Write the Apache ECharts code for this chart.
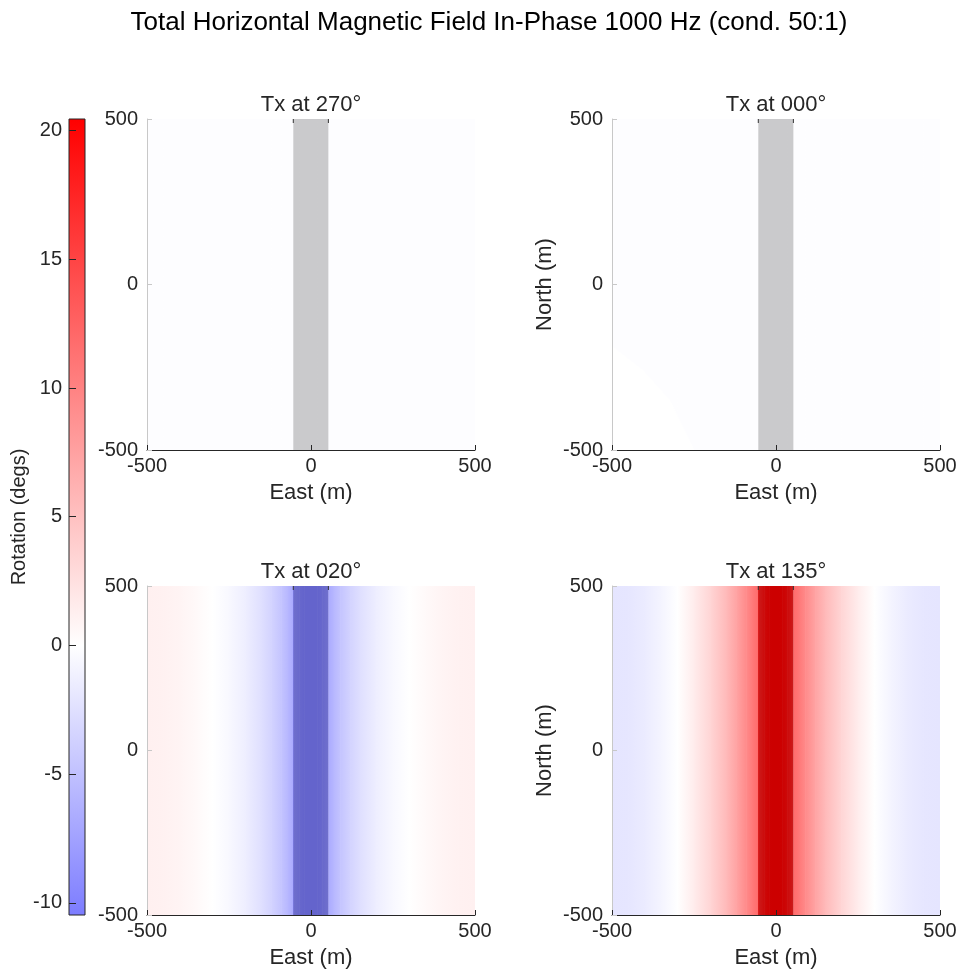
<!DOCTYPE html>
<html>
<head>
<meta charset="utf-8">
<script src="https://cdn.jsdelivr.net/npm/echarts@6/dist/echarts.min.js"></script>
<style>
  html, body { margin: 0; padding: 0; background: #fff; }
  #chart { width: 960px; height: 975px; }
</style>
</head>
<body>
<div id="chart"></div>
<script>
// Sample positions along the profile (East, m); field is uniform along North
const EAST = [-500, -450, -400, -350, -300, -250, -200, -150, -120, -90, -70, -55,
              -54, -35, -20, 0, 20, 35, 52,
              53, 70, 90, 120, 150, 200, 250, 300, 350, 400, 450, 500];

// Rotation (degs) along the profile for each transmitter azimuth
const TX270 = [-0.2, -0.2, -0.2, -0.2, -0.2, -0.2, -0.2, -0.2, -0.2, -0.2, -0.2, -0.2,
               -0.2, -0.2, -0.2, -0.2, -0.2, -0.2, -0.2,
               -0.2, -0.2, -0.2, -0.2, -0.2, -0.2, -0.2, -0.2, -0.2, -0.2, -0.2, -0.2];
const TX000 = [-0.2, -0.2, -0.2, -0.2, -0.2, -0.2, -0.2, -0.2, -0.2, -0.2, -0.2, -0.2,
               -0.2, -0.2, -0.2, -0.2, -0.2, -0.2, -0.2,
               -0.2, -0.2, -0.2, -0.2, -0.2, -0.2, -0.2, -0.2, -0.2, -0.2, -0.2, -0.2];
const TX020 = [1.2, 1.1, 0.9, 0.5, 0.0, -0.6, -1.4, -2.6, -3.5, -4.7, -5.8, -6.8,
               -9.2, -10.0, -10.4, -10.45, -10.4, -10.0, -9.2,
               -6.8, -5.8, -4.7, -3.5, -2.6, -1.4, -0.6, 0.0, 0.5, 0.9, 1.1, 1.2];
const TX135 = [-2.1, -2.0, -1.6, -0.9, 0.0, 1.5, 3.4, 5.6, 7.4, 9.4, 10.8, 11.8,
               17.6, 19.5, 20.3, 20.45, 20.3, 19.5, 17.6,
               11.8, 10.8, 9.4, 7.4, 5.6, 3.4, 1.5, 0.0, -0.9, -1.6, -2.0, -2.1];

// Near-zero lobe in the south-west corner of the Tx 000 map
const LOBE_EAST  = [-500, -500, -405, -323, -253, -250];
const LOBE_NORTH = [-500, -185, -258, -349, -491, -500];
const LOBE_VALUE = 0.0;

// Conductor footprint (East, m)
const CONDUCTOR = [-54, 53];

// Panel titles and colour scale
const PANEL_TITLES = ['Tx at 270°', 'Tx at 000°', 'Tx at 020°', 'Tx at 135°'];
const CB_MIN = -10.47, CB_MAX = 20.45;
const CB_TICKS = [-10, -5, 0, 5, 10, 15, 20];
const AXIS_TICKS = [-500, 0, 500];

const FONT = "'Liberation Sans', Arial, Helvetica, sans-serif";
const INK = '#262626';

// Blue-white-red map, white at zero, saturating at the colour-scale maximum
function rot(v) {
  const t = Math.min(Math.abs(v) / CB_MAX, 1);
  const c = Math.round(255 * (1 - t));
  return v >= 0 ? `rgb(255,${c},${c})` : `rgb(${c},${c},255)`;
}

const chart = echarts.init(document.getElementById('chart'), null, { renderer: 'canvas' });

const panels = [
  { left: 147, top: 119, width: 328, height: 331, vals: TX270, north: false },
  { left: 612, top: 119, width: 328, height: 331, vals: TX000, north: true, lobe: true },
  { left: 147, top: 586, width: 328, height: 329, vals: TX020, north: false },
  { left: 612, top: 586, width: 328, height: 329, vals: TX135, north: true }
];

const grids = [], xAxes = [], yAxes = [], series = [], graphics = [];

panels.forEach((p, i) => {
  grids.push({ left: p.left, top: p.top, width: p.width, height: p.height, containLabel: false });
  xAxes.push({
    gridIndex: i, type: 'value', min: -500, max: 500, position: 'bottom', z: 10,
    name: 'East (m)', nameLocation: 'middle', nameGap: 32,
    nameTextStyle: { color: INK, fontSize: 22, fontFamily: FONT },
    axisLine: { show: true, onZero: false, lineStyle: { color: INK, width: 1 } },
    axisTick: { show: true, inside: true, length: 5, customValues: AXIS_TICKS, lineStyle: { color: INK } },
    axisLabel: { customValues: AXIS_TICKS, color: INK, fontSize: 20, fontFamily: FONT, margin: 6 },
    splitLine: { show: false }
  });
  yAxes.push({
    gridIndex: i, type: 'value', min: -500, max: 500, position: 'left', z: 10,
    name: p.north ? 'North (m)' : '', nameLocation: 'middle', nameGap: 56, nameRotate: 90,
    nameTextStyle: { color: INK, fontSize: 22, fontFamily: FONT },
    axisLine: { show: true, onZero: false, lineStyle: { color: '#c8c8c8', width: 1 } },
    axisTick: { show: true, inside: true, length: 5, customValues: AXIS_TICKS, lineStyle: { color: '#c8c8c8' } },
    axisLabel: { customValues: AXIS_TICKS, color: INK, fontSize: 20, fontFamily: FONT, margin: 9 },
    splitLine: { show: false }
  });

  // Shaded field: each segment is filled with a horizontal gradient between its end samples
  const seg = [];
  for (let k = 0; k < EAST.length - 1; k++) seg.push([EAST[k], EAST[k + 1], p.vals[k], p.vals[k + 1]]);
  series.push({
    type: 'custom', xAxisIndex: i, yAxisIndex: i, clip: true, silent: true, z: 1,
    data: seg, encode: { x: [0, 1] },
    renderItem(params, api) {
      const a = api.coord([api.value(0), 500]);
      const b = api.coord([api.value(1), -500]);
      return {
        type: 'rect',
        shape: { x: a[0] - 0.3, y: a[1], width: b[0] - a[0] + 0.6, height: b[1] - a[1] },
        style: { fill: new echarts.graphic.LinearGradient(0, 0, 1, 0, [
          { offset: 0, color: rot(api.value(2)) },
          { offset: 1, color: rot(api.value(3)) }
        ]) }
      };
    }
  });

  if (p.lobe) {
    series.push({
      type: 'custom', xAxisIndex: i, yAxisIndex: i, clip: true, silent: true, z: 2,
      data: LOBE_EAST.map((e, k) => [e, LOBE_NORTH[k]]),
      renderItem(params, api) {
        if (params.dataIndex !== 0) return null;
        const pts = LOBE_EAST.map((e, k) => api.coord([e, LOBE_NORTH[k]]));
        return { type: 'polygon', shape: { points: pts }, style: { fill: rot(LOBE_VALUE) } };
      }
    });
  }

  // Conductor footprint drawn as a translucent dark strip
  series.push({
    type: 'custom', xAxisIndex: i, yAxisIndex: i, clip: false, silent: true, z: 3,
    data: [CONDUCTOR], encode: { x: [0, 1] },
    renderItem(params, api) {
      const a = api.coord([api.value(0), 500]);
      const b = api.coord([api.value(1), -500]);
      return {
        type: 'group',
        children: [
          { type: 'rect', shape: { x: a[0], y: a[1], width: b[0] - a[0], height: b[1] - a[1] },
            style: { fill: 'rgba(0,0,0,0.2)' } },
          { type: 'line', shape: { x1: a[0], y1: a[1], x2: a[0], y2: a[1] + 4 },
            style: { stroke: '#333', lineWidth: 1 } },
          { type: 'line', shape: { x1: b[0], y1: a[1], x2: b[0], y2: a[1] + 4 },
            style: { stroke: '#333', lineWidth: 1 } }
        ]
      };
    }
  });

  graphics.push({
    type: 'text', x: p.left + p.width / 2, y: p.top - 14,
    style: { text: PANEL_TITLES[i], fill: INK, font: `22px ${FONT}`, textAlign: 'center', textVerticalAlign: 'middle' }
  });
});

// Colour bar
const cb = grids.length;
grids.push({ left: 69, top: 119, width: 16, height: 796 });
xAxes.push({ gridIndex: cb, type: 'value', min: 0, max: 1, show: false });
yAxes.push({
  gridIndex: cb, type: 'value', min: CB_MIN, max: CB_MAX, position: 'left', z: 10,
  name: 'Rotation (degs)', nameLocation: 'middle', nameGap: 40, nameRotate: 90,
  nameTextStyle: { color: INK, fontSize: 20, fontFamily: FONT },
  axisLine: { show: false, onZero: false },
  axisTick: { show: true, inside: true, length: 7, customValues: CB_TICKS, lineStyle: { color: INK } },
  axisLabel: { customValues: CB_TICKS, color: INK, fontSize: 20, fontFamily: FONT, margin: 7 },
  splitLine: { show: false }
});
series.push({
  type: 'custom', xAxisIndex: cb, yAxisIndex: cb, clip: false, silent: true,
  data: [[CB_MIN, CB_MAX]],
  renderItem(params, api) {
    const top = api.coord([0, api.value(1)]);
    const bot = api.coord([1, api.value(0)]);
    const f = CB_MAX / (CB_MAX - CB_MIN);
    return {
      type: 'rect',
      shape: { x: top[0], y: top[1], width: bot[0] - top[0], height: bot[1] - top[1] },
      style: {
        fill: new echarts.graphic.LinearGradient(0, 0, 0, 1, [
          { offset: 0, color: rot(CB_MAX) },
          { offset: f, color: rot(0) },
          { offset: 1, color: rot(CB_MIN) }
        ]),
        stroke: INK, lineWidth: 1
      }
    };
  }
});

graphics.push({
  type: 'text', x: 489, y: 23,
  style: { text: 'Total Horizontal Magnetic Field In-Phase 1000 Hz (cond. 50:1)', fill: '#000',
           font: `26px ${FONT}`, textAlign: 'center', textVerticalAlign: 'middle' }
});

chart.setOption({
  animation: false,
  backgroundColor: '#fff',
  grid: grids, xAxis: xAxes, yAxis: yAxes, series,
  graphic: graphics
});
</script>
</body>
</html>
